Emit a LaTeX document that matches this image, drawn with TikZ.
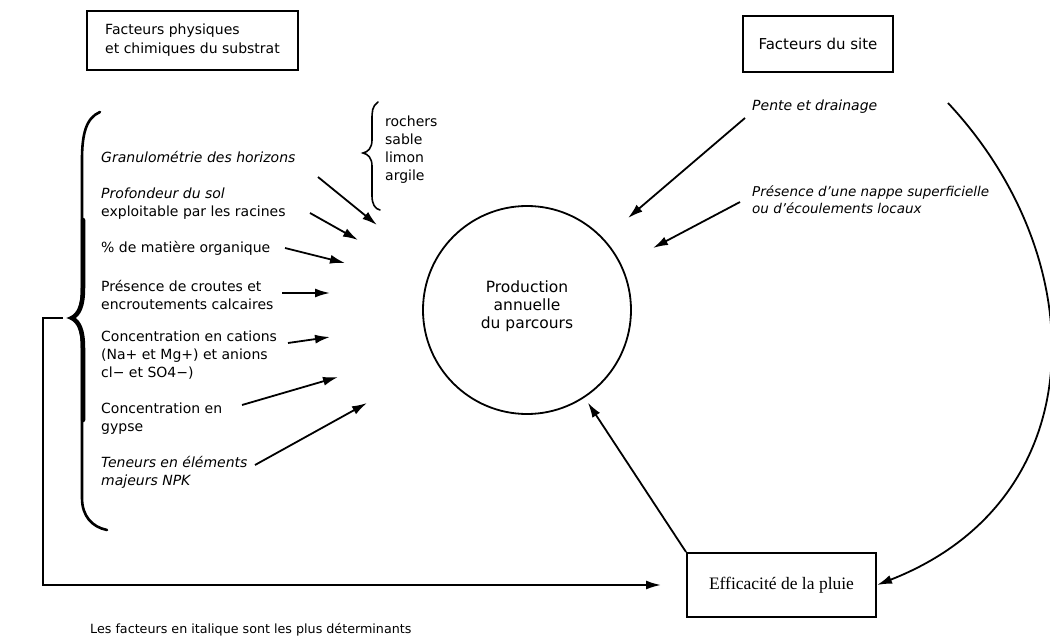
\documentclass[tikz,border=0pt]{standalone}
\usepackage{fontspec}
\setmainfont{DejaVu Sans}
\newfontfamily\boxserif{Liberation Serif}
\usetikzlibrary{arrows.meta,calc}
\begin{document}
\begin{tikzpicture}[x=1pt,y=-1pt,
  txt/.style={inner sep=0pt,anchor=west,align=left,font=\fontsize{14}{18}\selectfont},
  itxt/.style={txt,font=\fontsize{14}{18}\selectfont\itshape},
  framebox/.style={draw,line width=2pt,inner sep=0pt,align=left},
  arr/.style={line width=1.8pt,-{Latex[length=15pt,width=9pt]}},
  brace/.style={line width=2.6pt,line cap=round},
  ]
\useasboundingbox (0,0) rectangle (1050,642);
% boxes
\node[framebox,minimum width=211pt,minimum height=59pt,font=\fontsize{14}{19}\selectfont] (phys) at (192.5,40.5) {Facteurs physiques\\et chimiques du substrat};
\node[framebox,minimum width=150pt,minimum height=56pt,font=\fontsize{15}{18}\selectfont] (site) at (818,44) {Facteurs du site};
\node[framebox,minimum width=189pt,minimum height=64pt,font=\boxserif\fontsize{17.5}{18}\selectfont] (eff) at (781.5,585) {Efficacité de la pluie};
\node[draw,circle,line width=1.8pt,minimum size=208pt,inner sep=0pt] (prod) at (527,310) {};
\node[inner sep=0pt,align=center,font=\fontsize{15.5}{18}\selectfont] (prodt) at (527,306) {Production\\annuelle\\du parcours};
% left factors
\node[itxt] (g1) at (101,157) {Granulométrie des horizons};
\node[txt] (g2) at (101,204) {\textit{Profondeur du sol}\\exploitable par les racines};
\node[txt] (g3) at (101,248) {\% de matière organique};
\node[txt] (g4) at (101,295) {Présence de croutes et\\encroutements calcaires};
\node[txt] (g5) at (101,355) {Concentration en cations\\(Na+ et Mg+) et anions\\cl− et SO4−)};
\node[txt] (g6) at (101,419) {Concentration en\\gypse};
\node[itxt] (g7) at (101,472) {Teneurs en éléments\\majeurs NPK};
\node[txt] (rocks) at (385,150) {rochers\\sable\\limon\\argile};
% right factors
\node[itxt] (pente) at (752,107) {Pente et drainage};
\node[itxt,font=\fontsize{13.5}{17}\selectfont\itshape] (nappe) at (752,200) {Présence d'une nappe superficielle\\ou d'écoulements locaux};
% caption
\node[txt,font=\fontsize{12.7}{14}\selectfont] (cap) at (90,630) {Les facteurs en italique sont les plus déterminants};
% arrow end points
\coordinate (a1s) at (318,177); \coordinate (a1e) at (377,225);
\coordinate (a2s) at (310,213); \coordinate (a2e) at (358,240);
\coordinate (a3s) at (285,248); \coordinate (a3e) at (345,263);
\coordinate (a4s) at (282,293); \coordinate (a4e) at (330,293);
\coordinate (a5s) at (288,343); \coordinate (a5e) at (330,337);
\coordinate (a6s) at (242,405); \coordinate (a6e) at (338,377);
\coordinate (a7s) at (255,465); \coordinate (a7e) at (367,403);
\coordinate (r1s) at (745,118); \coordinate (r1e) at (628,218);
\coordinate (r2s) at (740,202); \coordinate (r2e) at (653,248);
\foreach \i in {1,...,7} {\draw[arr] (a\i s) -- (a\i e);}
\draw[arr] (r1s) -- (r1e);
\draw[arr] (r2s) -- (r2e);
% efficacite -> production
\draw[arr,shorten >=6pt] (eff.north west) -- (prod);
% big arc from site side to efficacite
\coordinate (arcs) at (948,103);
\draw[arr] (arcs) .. controls (1095,260) and (1095,500) .. (eff.east);
% big brace
\coordinate (cusp) at (70,318);
\draw[brace] (100,112) .. controls (86,118) and (82,134) .. (82,160) -- (82,288)
  .. controls (82,308) and (78,316) .. (cusp)
  .. controls (78,320) and (82,328) .. (82,348) -- (82,498)
  .. controls (82,516) and (92,527) .. (107,530);
\draw[line width=4.5pt,line cap=round] (83,220) -- (83,288) .. controls (83,306) and (79,314) .. (72,318)
  .. controls (79,322) and (83,330) .. (83,348) -- (83,420);
% rocks brace
\draw[line width=1.6pt,line cap=round] (378,102) .. controls (372,106) and (372,112) .. (372,120) -- (372,140)
  .. controls (372,148) and (368,152) .. (363,153)
  .. controls (368,154) and (372,158) .. (372,166) -- (372,196)
  .. controls (372,204) and (375,209) .. (380,210);
% feedback line
\coordinate (fb1) at (63,318);
\draw[arr,shorten >=25pt] (fb1) -- (43,318) |- (eff.west);
\end{tikzpicture}
\end{document}
